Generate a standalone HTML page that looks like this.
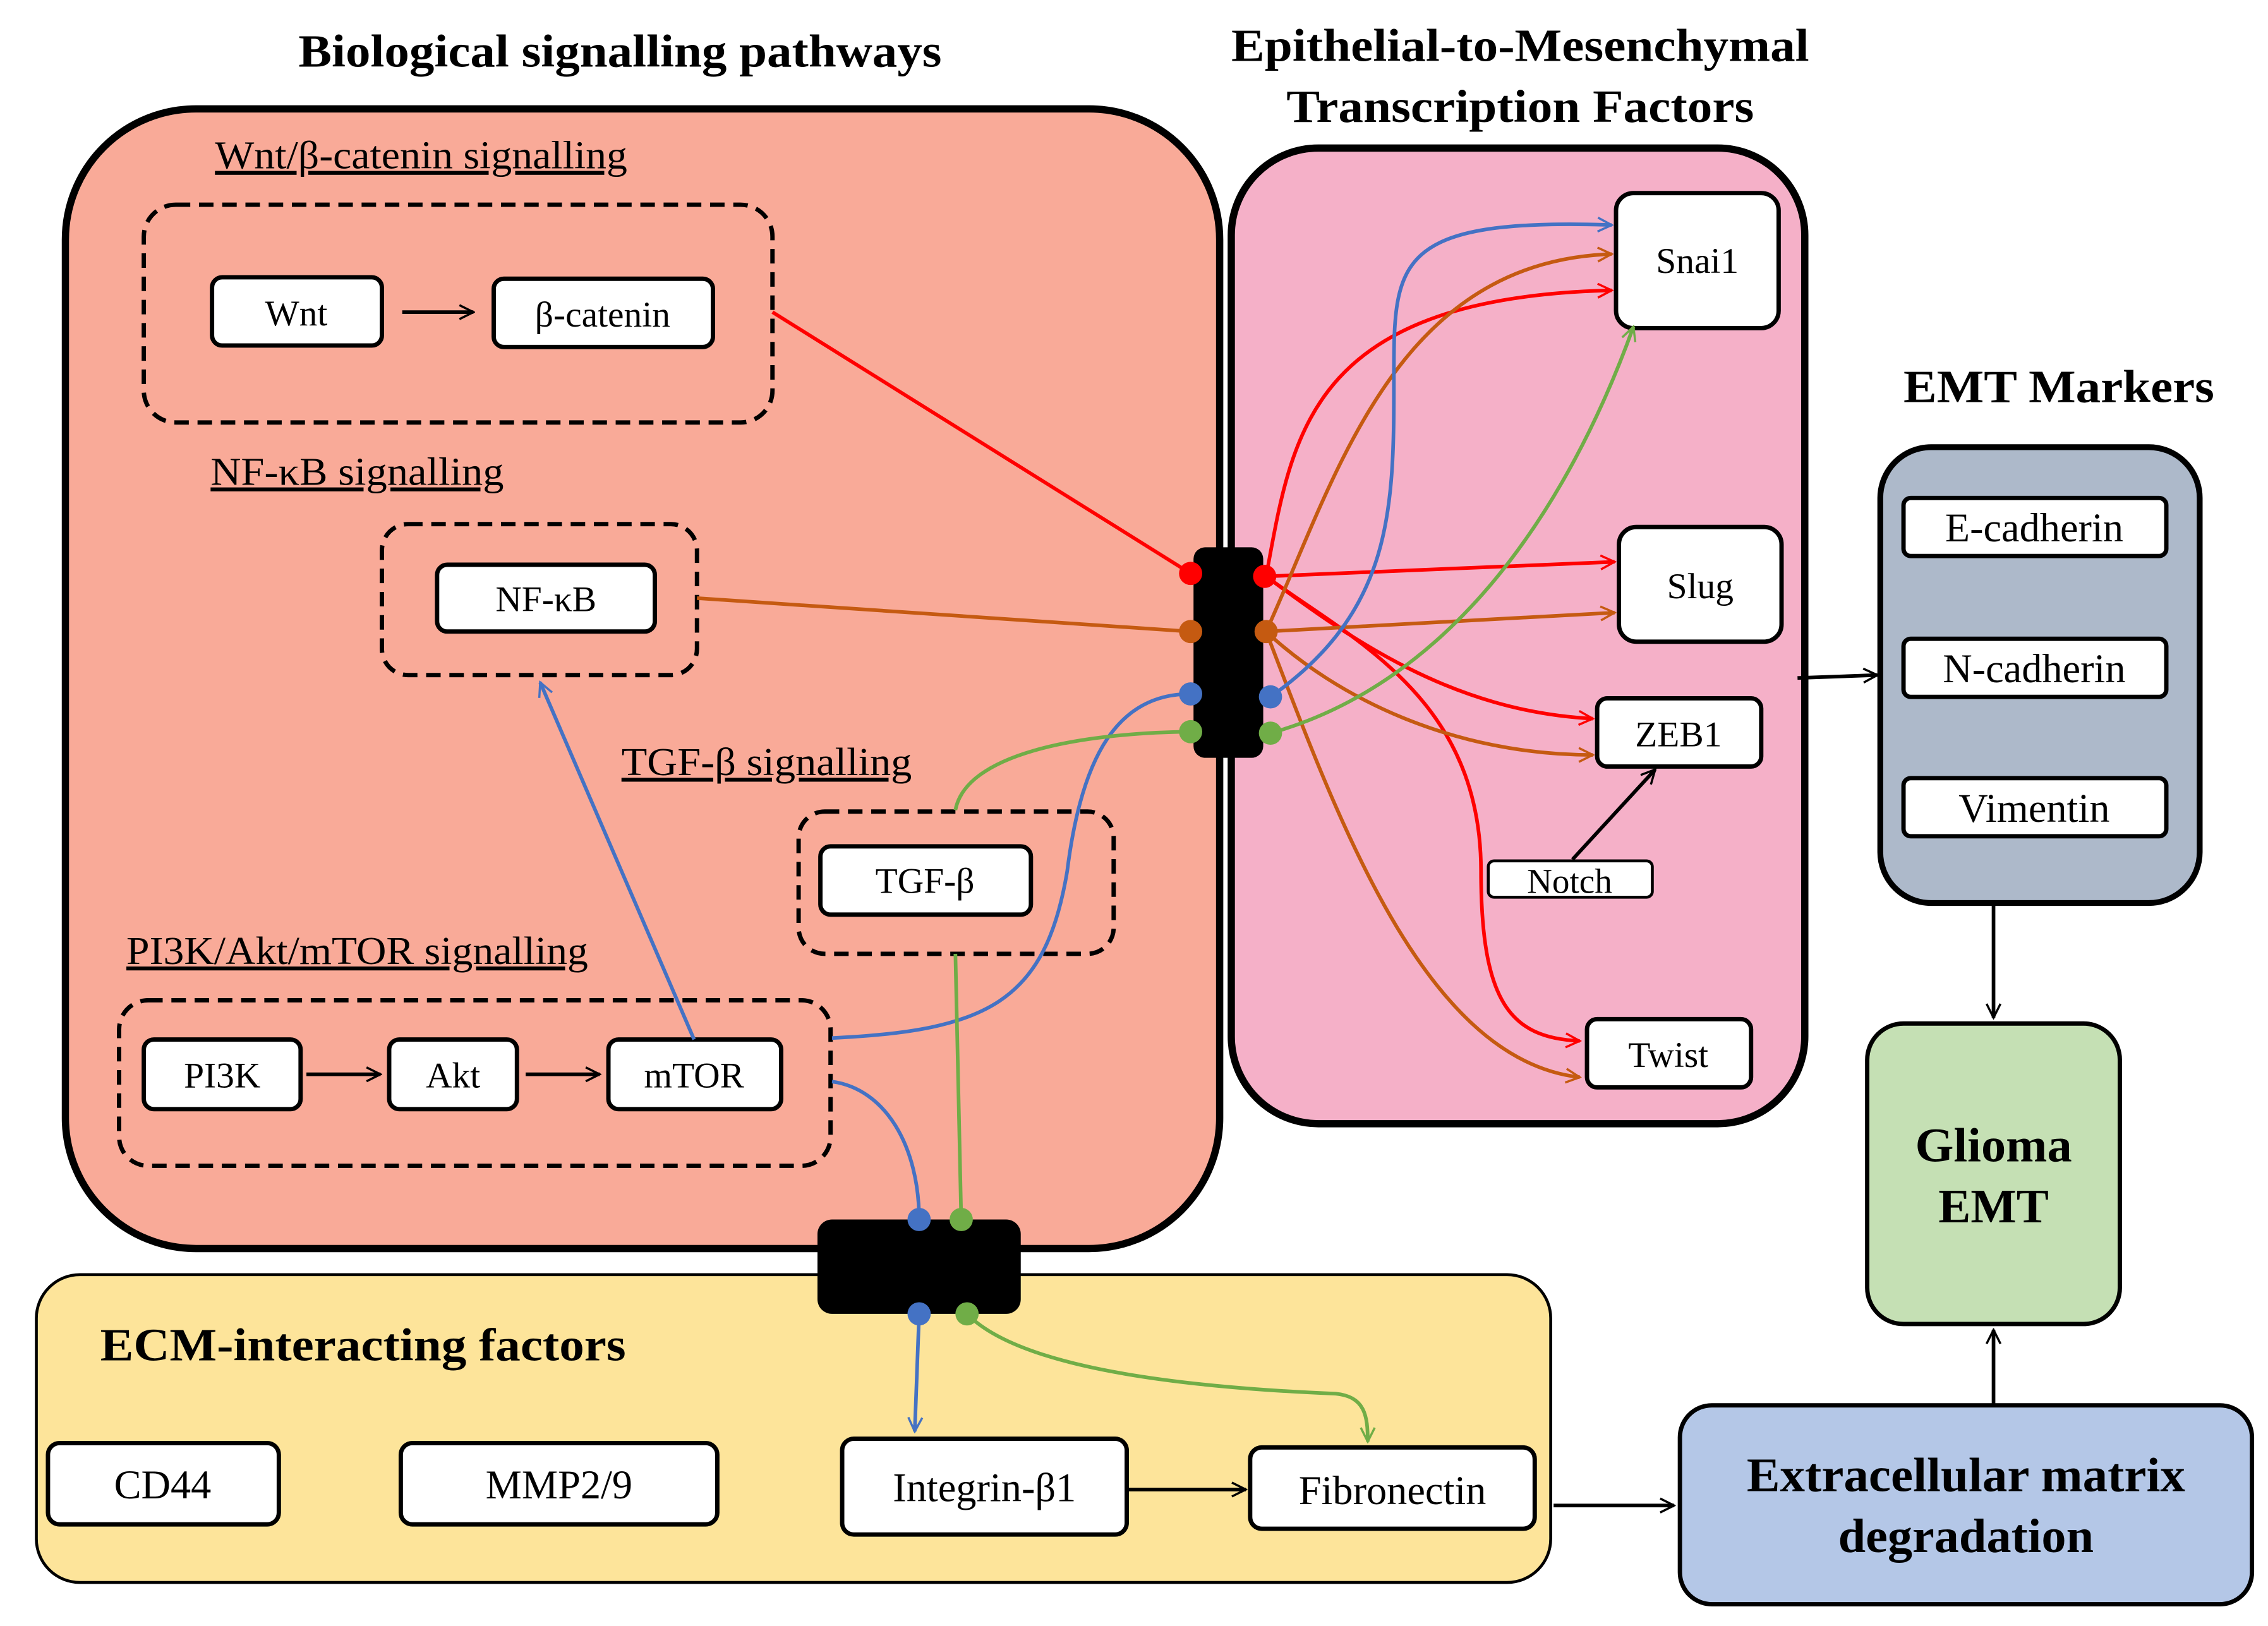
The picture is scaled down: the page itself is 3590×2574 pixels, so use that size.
<!DOCTYPE html>
<html><head><meta charset="utf-8"><style>html,body{margin:0;padding:0;background:#fff}svg{display:block}</style></head><body>
<svg width="3590" height="2574" viewBox="0 0 1562 1120" xmlns="http://www.w3.org/2000/svg" font-family="'Liberation Serif', serif">
<defs>
<marker id="mk" viewBox="0 0 20 20" refX="18" refY="10" markerWidth="12" markerHeight="12" markerUnits="userSpaceOnUse" orient="auto"><path d="M2,2 L18,10 L2,18" fill="none" stroke="#000" stroke-width="2.5"/></marker>
<marker id="mr" viewBox="0 0 20 20" refX="18" refY="10" markerWidth="12" markerHeight="12" markerUnits="userSpaceOnUse" orient="auto"><path d="M2,2 L18,10 L2,18" fill="none" stroke="#f00" stroke-width="2.5"/></marker>
<marker id="mo" viewBox="0 0 20 20" refX="18" refY="10" markerWidth="12" markerHeight="12" markerUnits="userSpaceOnUse" orient="auto"><path d="M2,2 L18,10 L2,18" fill="none" stroke="#c55a11" stroke-width="2.5"/></marker>
<marker id="mb" viewBox="0 0 20 20" refX="18" refY="10" markerWidth="12" markerHeight="12" markerUnits="userSpaceOnUse" orient="auto"><path d="M2,2 L18,10 L2,18" fill="none" stroke="#4472c4" stroke-width="2.5"/></marker>
<marker id="mg" viewBox="0 0 20 20" refX="18" refY="10" markerWidth="12" markerHeight="12" markerUnits="userSpaceOnUse" orient="auto"><path d="M2,2 L18,10 L2,18" fill="none" stroke="#70ad47" stroke-width="2.5"/></marker>
</defs>
<rect width="1562" height="1120" fill="#fff"/>
<rect x="45" y="75" width="795" height="785" rx="90" fill="#f9aa98" stroke="#000" stroke-width="5"/>
<rect x="848" y="102" width="395" height="672" rx="60" fill="#f5b0c8" stroke="#000" stroke-width="5"/>
<rect x="1295" y="308" width="220" height="314" rx="35" fill="#adb9ca" stroke="#000" stroke-width="4"/>
<rect x="25" y="878" width="1043" height="212" rx="30" fill="#fde49a" stroke="#000" stroke-width="2"/>
<rect x="1286" y="705" width="174" height="207" rx="25" fill="#c5e0b4" stroke="#000" stroke-width="3"/>
<rect x="1157" y="968" width="394" height="137" rx="22" fill="#b4c7e7" stroke="#000" stroke-width="3"/>
<g font-weight="bold" font-size="32" text-anchor="middle">
<text x="427" y="46" textLength="443" lengthAdjust="spacingAndGlyphs">Biological signalling pathways</text>
<text x="1047" y="42" textLength="398" lengthAdjust="spacingAndGlyphs">Epithelial-to-Mesenchymal</text>
<text x="1047" y="84" textLength="322" lengthAdjust="spacingAndGlyphs">Transcription Factors</text>
<text x="1418" y="277" textLength="214" lengthAdjust="spacingAndGlyphs">EMT Markers</text>
<text x="1373" y="800" font-size="33" textLength="108" lengthAdjust="spacingAndGlyphs">Glioma</text>
<text x="1373" y="842" font-size="33" textLength="76" lengthAdjust="spacingAndGlyphs">EMT</text>
<text x="1354" y="1027" font-size="33" textLength="302" lengthAdjust="spacingAndGlyphs">Extracellular matrix</text>
<text x="1354" y="1069" font-size="33" textLength="176" lengthAdjust="spacingAndGlyphs">degradation</text>
<text x="250" y="937" textLength="362" lengthAdjust="spacingAndGlyphs">ECM-interacting factors</text>
</g>
<g font-size="27" text-decoration="underline">
<text x="148" y="116" textLength="284" lengthAdjust="spacingAndGlyphs">Wnt/β-catenin signalling</text>
<text x="145" y="334" textLength="202" lengthAdjust="spacingAndGlyphs">NF-κB signalling</text>
<text x="428" y="534" textLength="200" lengthAdjust="spacingAndGlyphs">TGF-β signalling</text>
<text x="87" y="664" textLength="318" lengthAdjust="spacingAndGlyphs">PI3K/Akt/mTOR signalling</text>
</g>
<g fill="none" stroke="#000" stroke-width="3" stroke-dasharray="10,6">
<rect x="99" y="141" width="433" height="150" rx="22"/>
<rect x="263" y="361" width="217" height="104" rx="18"/>
<rect x="550" y="559" width="217" height="98" rx="18"/>
<rect x="82" y="689" width="490" height="114" rx="20"/>
</g>
<g fill="#fff" stroke="#000" stroke-width="3">
<rect x="146" y="191" width="117" height="47" rx="7"/>
<rect x="340" y="192" width="151" height="47" rx="7"/>
<rect x="301" y="389" width="150" height="46" rx="7"/>
<rect x="565" y="583" width="145" height="47" rx="7"/>
<rect x="99" y="716" width="108" height="48" rx="7"/>
<rect x="268" y="716" width="88" height="48" rx="7"/>
<rect x="419" y="716" width="119" height="48" rx="7"/>
<rect x="1113" y="133" width="112" height="93" rx="12"/>
<rect x="1115" y="363" width="112" height="79" rx="12"/>
<rect x="1100" y="481" width="113" height="47" rx="7"/>
<rect x="1025" y="593" width="113" height="25" rx="4" stroke-width="2"/>
<rect x="1093" y="702" width="113" height="47" rx="7"/>
<rect x="1311" y="343" width="181" height="40" rx="5"/>
<rect x="1311" y="440" width="181" height="40" rx="5"/>
<rect x="1311" y="536" width="181" height="40" rx="5"/>
<rect x="33" y="994" width="159" height="56" rx="8"/>
<rect x="276" y="994" width="218" height="56" rx="8"/>
<rect x="580" y="991" width="196" height="66" rx="8"/>
<rect x="861" y="997" width="196" height="56" rx="8"/>
</g>
<g font-size="25" text-anchor="middle">
<text x="204" y="224">Wnt</text>
<text x="415" y="225">β-catenin</text>
<text x="376" y="421">NF-κB</text>
<text x="637" y="615">TGF-β</text>
<text x="153" y="749">PI3K</text>
<text x="312" y="749">Akt</text>
<text x="478" y="749">mTOR</text>
<text x="1169" y="188">Snai1</text>
<text x="1171" y="412">Slug</text>
<text x="1156" y="514">ZEB1</text>
<text x="1081" y="615" font-size="24">Notch</text>
<text x="1149" y="735">Twist</text>
<text x="1401" y="373" font-size="28">E-cadherin</text>
<text x="1401" y="470" font-size="28">N-cadherin</text>
<text x="1401" y="566" font-size="28">Vimentin</text>
<text x="112" y="1032" font-size="28">CD44</text>
<text x="385" y="1032" font-size="28">MMP2/9</text>
<text x="678" y="1034" font-size="28">Integrin-β1</text>
<text x="959" y="1036" font-size="28">Fibronectin</text>
</g>
<rect x="822" y="377" width="48" height="145" rx="8" fill="#000"/>
<rect x="563" y="840" width="140" height="65" rx="10" fill="#000"/>
<g fill="none" stroke-width="2.5">
<path d="M277,215 L326,215" stroke="#000" marker-end="url(#mk)"/>
<path d="M211,740 L262,740" stroke="#000" marker-end="url(#mk)"/>
<path d="M362,740 L413,740" stroke="#000" marker-end="url(#mk)"/>
<path d="M532,215 L820,395" stroke="#f00"/>
<path d="M480,412 L820,435" stroke="#c55a11"/>
<path d="M573,715 C680,710 720,690 735,600 C745,520 770,478 820,478" stroke="#4472c4"/>
<path d="M478,716 L372,470" stroke="#4472c4" marker-end="url(#mb)"/>
<path d="M658,558 C665,520 740,505 820,504" stroke="#70ad47"/>
<path d="M573,745 C610,750 633,790 633,840" stroke="#4472c4"/>
<path d="M658,657 L662,840" stroke="#70ad47"/>
<path d="M633,905 L630,986" stroke="#4472c4" marker-end="url(#mb)"/>
<path d="M666,905 C700,940 800,955 920,960 C940,962 942,975 942,993" stroke="#70ad47" marker-end="url(#mg)"/>
<path d="M872,397 C890,300 900,205 1110,200" stroke="#f00" marker-end="url(#mr)"/>
<path d="M872,397 L1112,387" stroke="#f00" marker-end="url(#mr)"/>
<path d="M872,397 C930,440 1000,490 1097,495" stroke="#f00" marker-end="url(#mr)"/>
<path d="M872,397 C930,440 1020,480 1020,600 C1020,690 1040,715 1088,717" stroke="#f00" marker-end="url(#mr)"/>
<path d="M872,435 C920,330 960,180 1110,175" stroke="#c55a11" marker-end="url(#mo)"/>
<path d="M872,435 L1112,422" stroke="#c55a11" marker-end="url(#mo)"/>
<path d="M872,435 C920,480 1000,520 1097,520" stroke="#c55a11" marker-end="url(#mo)"/>
<path d="M872,435 C920,560 980,730 1088,742" stroke="#c55a11" marker-end="url(#mo)"/>
<path d="M875,480 C960,420 960,350 960,260 C960,180 960,150 1110,155" stroke="#4472c4" marker-end="url(#mb)"/>
<path d="M875,505 C1000,470 1080,350 1125,225" stroke="#70ad47" marker-end="url(#mg)"/>
<path d="M1083,592 L1140,530" stroke="#000" marker-end="url(#mk)"/>
<path d="M777,1026 L858,1026" stroke="#000" marker-end="url(#mk)"/>
<path d="M1070,1037 L1153,1037" stroke="#000" marker-end="url(#mk)"/>
<path d="M1373,967 L1373,916" stroke="#000" marker-end="url(#mk)"/>
<path d="M1373,622 L1373,701" stroke="#000" marker-end="url(#mk)"/>
<path d="M1238,467 L1293,465" stroke="#000" marker-end="url(#mk)"/>
</g>
<circle cx="820" cy="395" r="8" fill="#f00"/>
<circle cx="820" cy="435" r="8" fill="#c55a11"/>
<circle cx="820" cy="478" r="8" fill="#4472c4"/>
<circle cx="820" cy="504" r="8" fill="#70ad47"/>
<circle cx="871" cy="397" r="8" fill="#f00"/>
<circle cx="872" cy="435" r="8" fill="#c55a11"/>
<circle cx="875" cy="480" r="8" fill="#4472c4"/>
<circle cx="875" cy="505" r="8" fill="#70ad47"/>
<circle cx="633" cy="840" r="8" fill="#4472c4"/>
<circle cx="662" cy="840" r="8" fill="#70ad47"/>
<circle cx="633" cy="905" r="8" fill="#4472c4"/>
<circle cx="666" cy="905" r="8" fill="#70ad47"/>
</svg>
</body></html>
